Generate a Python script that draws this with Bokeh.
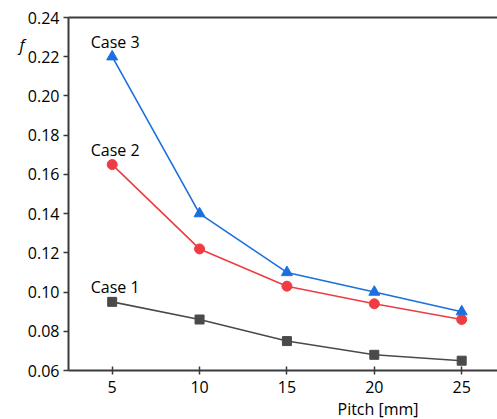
from bokeh.plotting import figure
from bokeh.models import Label, LinearAxis, FixedTicker, Range1d, NumeralTickFormatter, Title
from bokeh.embed import file_html
from bokeh.resources import INLINE

pitch = [5, 10, 15, 20, 25]
case1 = [0.095, 0.086, 0.075, 0.068, 0.065]
case2 = [0.165, 0.122, 0.103, 0.094, 0.086]
case3 = [0.220, 0.140, 0.110, 0.100, 0.090]
series_names = ["Case 1", "Case 2", "Case 3"]
y_ticks = [0.06, 0.08, 0.10, 0.12, 0.14, 0.16, 0.18, 0.20, 0.22, 0.24]
x_ticks = [5, 10, 15, 20, 25]
y_title = "f"
y_title_at = 0.2262
x_title = "Pitch [mm]"

FONT = "Open Sans"
AX = "#3a3a3a"
TXT = "#000000"

p = figure(width=497, height=419, output_backend="svg", toolbar_location=None,
           x_range=Range1d(2.5, 27.05), y_range=Range1d(0.06, 0.24),
           min_border_left=68, min_border_right=0, min_border_top=17, min_border_bottom=49)
p.background_fill_color = "white"
p.border_fill_color = "white"
p.outline_line_color = None
p.grid.visible = False

for ax in (p.xaxis[0], p.yaxis[0]):
    ax.axis_line_color = AX
    ax.axis_line_width = 2
    ax.major_tick_line_color = AX
    ax.major_tick_line_width = 1.5
    ax.minor_tick_line_color = None
    ax.major_label_text_font = FONT
    ax.major_label_text_font_size = "16px"
    ax.major_label_text_color = TXT

p.xaxis.ticker = FixedTicker(ticks=x_ticks)
p.xaxis.major_tick_in = 4
p.xaxis.major_tick_out = 4
p.xaxis.major_label_standoff = 6
p.yaxis.ticker = FixedTicker(ticks=y_ticks)
p.yaxis.formatter = NumeralTickFormatter(format="0.00")
p.yaxis.major_tick_in = 0
p.yaxis.major_tick_out = 5
p.yaxis.major_label_standoff = 4

# outer left axis used only to show the "f" title near the top
fax = LinearAxis(ticker=FixedTicker(ticks=[y_title_at]),
                 major_label_overrides={y_title_at: y_title},
                 axis_line_color=None, major_tick_line_color=None, minor_tick_line_color=None,
                 major_tick_in=0, major_tick_out=0, major_label_standoff=0,
                 major_label_text_font=FONT, major_label_text_font_size="16px",
                 major_label_text_font_style="italic", major_label_text_color=TXT)
p.add_layout(fax, "left")

top = LinearAxis(ticker=FixedTicker(ticks=[]), major_label_text_font_size="0px",
                 axis_line_color=AX, axis_line_width=2, major_tick_line_color=None,
                 minor_tick_line_color=None)
p.add_layout(top, "above")

colors = ["#4a4a4a", "#ee3d42", "#1c6fe0"]
data = [case1, case2, case3]
for name, ys, c in zip(series_names, data, colors):
    p.line(pitch, ys, line_color=c, line_width=1.6)
    if name == "Case 1":
        p.scatter(pitch, ys, marker="square", size=9, fill_color=c, line_color=c)
    elif name == "Case 2":
        p.scatter(pitch, ys, marker="circle", size=10, fill_color=c, line_color=c)
    else:
        p.scatter(pitch, ys, marker="triangle", size=11, fill_color=c, line_color=c)
    p.add_layout(Label(x=pitch[0], y=ys[0], text=name, x_offset=3, y_offset=15,
                       text_align="center", text_baseline="middle",
                       text_font=FONT, text_font_size="16px", text_color=TXT))

p.add_layout(Title(text=x_title, align="left", offset=269,
                   text_font=FONT, text_font_size="16px", text_font_style="normal",
                   text_color=TXT, standoff=0), "below")

open("out.html", "w").write(file_html(p, INLINE))
